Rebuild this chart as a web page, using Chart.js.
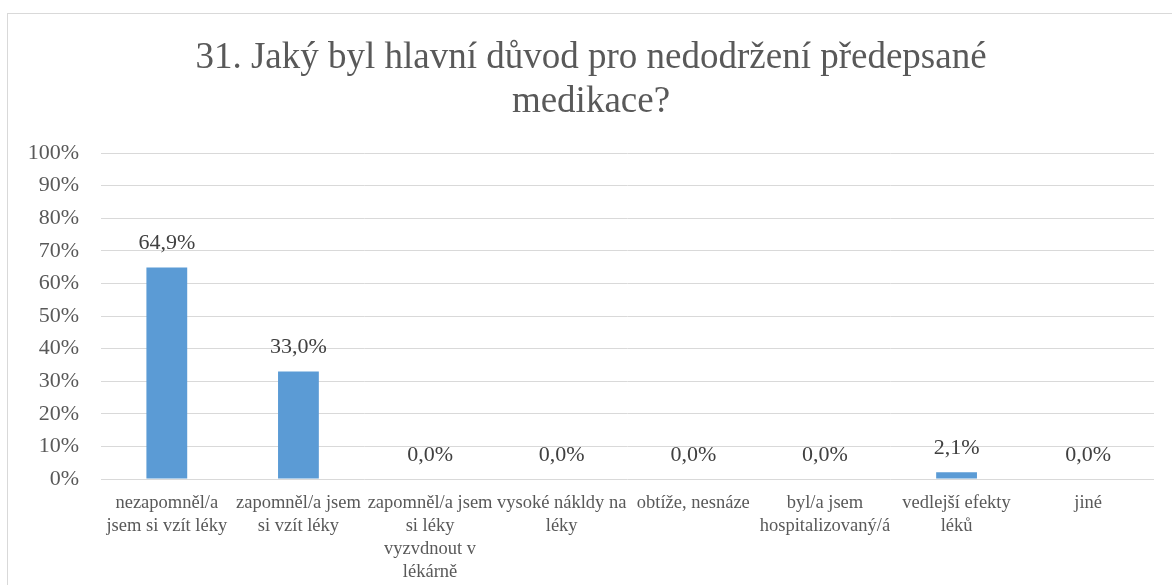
<!DOCTYPE html>
<html lang="cs">
<head>
<meta charset="utf-8">
<title>31. Jaký byl hlavní důvod pro nedodržení předepsané medikace?</title>
<script src="https://cdn.jsdelivr.net/npm/chart.js@4.4.1/dist/chart.umd.min.js"></script>
<style>
  html, body { margin: 0; padding: 0; background: #fff; }
  #wrap { position: relative; width: 1172px; height: 585px; }
</style>
</head>
<body>
<div id="wrap"><canvas id="graf"></canvas></div>
<script>
// data z grafu
const kategorie = [
  ['nezapomněl/a', 'jsem si vzít léky'],
  ['zapomněl/a jsem', 'si vzít léky'],
  ['zapomněl/a jsem', 'si léky', 'vyzvdnout v', 'lékárně'],
  ['vysoké nákldy na', 'léky'],
  ['obtíže, nesnáze'],
  ['byl/a jsem', 'hospitalizovaný/á'],
  ['vedlejší efekty', 'léků'],
  ['jiné']
];
const hodnoty = [64.9, 33.0, 0.0, 0.0, 0.0, 0.0, 2.1, 0.0];
const nadpis = ['31. Jaký byl hlavní důvod pro nedodržení předepsané', 'medikace?'];

const PISMO = "'Liberation Serif', 'Times New Roman', serif";
const SEDA = '#595959';

// rámeček a nadpis
const ramecek = {
  id: 'ramecek',
  beforeDraw(chart) {
    const ctx = chart.ctx;
    ctx.save();
    ctx.strokeStyle = '#d9d9d9';
    ctx.lineWidth = 1;
    ctx.strokeRect(7.5, 13.5, 1200, 620);
    ctx.font = '37px ' + PISMO;
    ctx.fillStyle = SEDA;
    ctx.textAlign = 'center';
    ctx.textBaseline = 'alphabetic';
    nadpis.forEach((radek, i) => ctx.fillText(radek, 591, 68 + i * 44));
    ctx.restore();
  }
};

// popisky hodnot nad sloupci
const popisky = {
  id: 'popisky',
  afterDatasetsDraw(chart) {
    const ctx = chart.ctx;
    const meta = chart.getDatasetMeta(0);
    ctx.save();
    ctx.font = '22px ' + PISMO;
    ctx.fillStyle = '#404040';
    ctx.textAlign = 'center';
    ctx.textBaseline = 'middle';
    meta.data.forEach((bar, i) => {
      const txt = hodnoty[i].toFixed(1).replace('.', ',') + '%';
      ctx.fillText(txt, bar.x, bar.y - 24);
    });
    ctx.restore();
  }
};

new Chart(document.getElementById('graf').getContext('2d'), {
  type: 'bar',
  data: {
    labels: kategorie,
    datasets: [{
      data: hodnoty,
      backgroundColor: '#5b9bd5',
      barPercentage: 0.31,
      categoryPercentage: 1.0
    }]
  },
  options: {
    responsive: true,
    maintainAspectRatio: false,
    animation: false,
    layout: { padding: { left: 0, right: 18, top: 153, bottom: 0 } },
    plugins: {
      legend: { display: false },
      tooltip: { enabled: false },
      title: { display: false }
    },
    scales: {
      x: {
        grid: { display: false },
        border: { display: false },
        ticks: {
          color: SEDA,
          autoSkip: false,
          maxRotation: 0,
          minRotation: 0,
          padding: 5,
          font: { family: PISMO, size: 18.5, lineHeight: 1.24 }
        },
        afterFit(scale) { scale.height = 106; }
      },
      y: {
        min: 0,
        max: 100,
        grid: { color: '#d9d9d9', lineWidth: 1, drawTicks: false },
        border: { display: false },
        ticks: {
          stepSize: 10,
          color: SEDA,
          padding: 22,
          font: { family: PISMO, size: 22 },
          callback: v => v + '%'
        },
        afterFit(scale) { scale.width = 101; }
      }
    }
  },
  plugins: [ramecek, popisky]
});
</script>
</body>
</html>
